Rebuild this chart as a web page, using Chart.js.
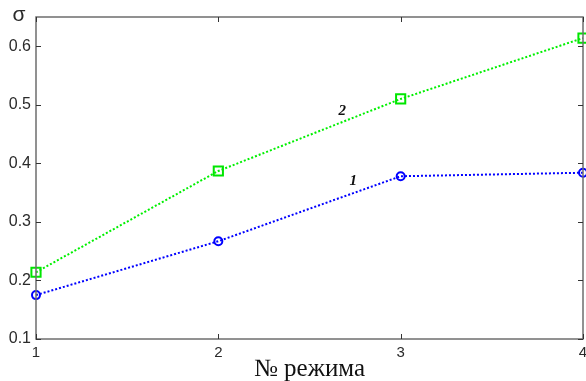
<!DOCTYPE html>
<html>
<head>
<meta charset="utf-8">
<script src="https://cdn.jsdelivr.net/npm/chart.js@4/dist/chart.umd.min.js"></script>
<style>
  html, body { margin: 0; padding: 0; background: #fff; }
  #wrap { width: 586px; height: 381px; }
</style>
</head>
<body>
<div id="wrap"><canvas id="c"></canvas></div>
<script>
// modes and sigma values
const modes = [1, 2, 3, 4];
const sigma1 = [0.175, 0.267, 0.378, 0.384];
const sigma2 = [0.214, 0.387, 0.510, 0.614];
const xTicks = [1, 2, 3, 4];
const yTicks = [0.1, 0.2, 0.3, 0.4, 0.5, 0.6];
const curveLabels = [
  { text: '2', x: 2.68, y: 0.49 },
  { text: '1', x: 2.74, y: 0.37 },
];

const AXIS = '#6e6e6e';
const TXT = '#2a2a2a';

const toPts = (ys) => modes.map((m, i) => ({ x: m, y: ys[i] }));

// box frame, inward ticks on all four sides, curve numbers and the sigma label
const decor = {
  id: 'decor',
  afterDraw(chart) {
    const { ctx, chartArea: a, scales } = chart;
    ctx.save();
    ctx.strokeStyle = AXIS;
    ctx.lineWidth = 1.5;
    ctx.strokeRect(a.left, a.top, a.right - a.left, a.bottom - a.top);
    ctx.lineWidth = 1;
    ctx.strokeStyle = '#333';
    const t = 5;
    ctx.beginPath();
    yTicks.forEach(v => {
      const y = Math.round(scales.y.getPixelForValue(v)) + 0.5;
      ctx.moveTo(a.left, y); ctx.lineTo(a.left + t, y);
      ctx.moveTo(a.right, y); ctx.lineTo(a.right - t, y);
    });
    xTicks.forEach(v => {
      const x = Math.round(scales.x.getPixelForValue(v)) + 0.5;
      ctx.moveTo(x, a.bottom); ctx.lineTo(x, a.bottom - t);
      ctx.moveTo(x, a.top); ctx.lineTo(x, a.top + t);
    });
    ctx.stroke();

    ctx.fillStyle = '#111';
    ctx.font = 'italic bold 15px "Liberation Serif"';
    ctx.textAlign = 'center';
    ctx.textBaseline = 'middle';
    curveLabels.forEach(l => {
      ctx.fillText(l.text, scales.x.getPixelForValue(l.x), scales.y.getPixelForValue(l.y));
    });

    ctx.fillStyle = TXT;
    ctx.font = '21px "Liberation Sans"';
    ctx.fillText('σ', 19, 15);
    ctx.restore();
  }
};

new Chart(document.getElementById('c'), {
  type: 'line',
  data: {
    datasets: [
      {
        label: '1',
        data: toPts(sigma1),
        borderColor: '#0000ff',
        borderWidth: 2,
        borderDash: [2, 2],
        pointStyle: 'circle',
        pointRadius: 4,
        pointBorderWidth: 2,
        pointBackgroundColor: 'rgba(0,0,0,0)',
        pointBorderColor: '#0000ff',
        tension: 0,
        clip: false,
      },
      {
        label: '2',
        data: toPts(sigma2),
        borderColor: '#00f000',
        borderWidth: 2,
        borderDash: [2, 2],
        pointStyle: 'rect',
        pointRadius: 6.5,
        pointBorderWidth: 2,
        pointBackgroundColor: 'rgba(0,0,0,0)',
        pointBorderColor: '#00e600',
        tension: 0,
        clip: false,
      },
    ],
  },
  options: {
    responsive: true,
    maintainAspectRatio: false,
    animation: false,
    layout: { autoPadding: false, padding: { top: 17, right: 3, left: 0, bottom: 0 } },
    plugins: { legend: { display: false }, tooltip: { enabled: false } },
    scales: {
      x: {
        type: 'linear',
        min: 1,
        max: 4,
        afterBuildTicks: s => { s.ticks = xTicks.map(v => ({ value: v })); },
        afterFit: s => { s.height = 42; s.paddingRight = 0; s.paddingLeft = 0; },
        grid: { display: false, drawTicks: false },
        border: { display: false },
        ticks: {
          color: TXT,
          font: { family: 'Liberation Sans', size: 15 },
          padding: 5,
          callback: v => String(v),
        },
        title: {
          display: true,
          text: '№ режима',
          color: '#111',
          font: { family: 'Liberation Serif', size: 25 },
          padding: { top: 0, bottom: -3 },
        },
      },
      y: {
        min: 0.1,
        max: 0.65,
        afterBuildTicks: s => { s.ticks = yTicks.map(v => ({ value: v })); },
        afterFit: s => { s.width = 36; },
        grid: { display: false, drawTicks: false },
        border: { display: false },
        ticks: {
          color: TXT,
          font: { family: 'Liberation Sans', size: 16 },
          padding: 5,
          callback: v => v.toFixed(1),
        },
      },
    },
  },
  plugins: [decor],
});
</script>
</body>
</html>
